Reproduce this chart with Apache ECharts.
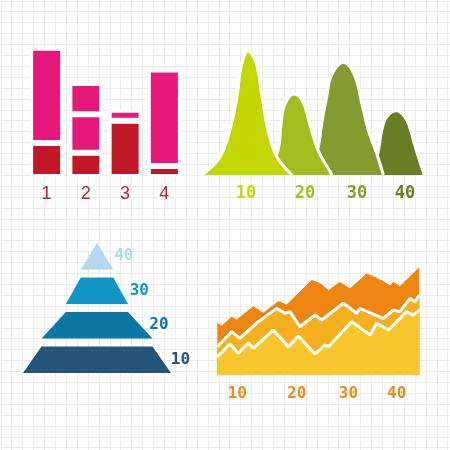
<!DOCTYPE html>
<html><head><meta charset="utf-8">
<script src="https://cdn.jsdelivr.net/npm/echarts@6/dist/echarts.min.js"></script>
<style>html,body{margin:0;padding:0;background:#fff}#c{width:450px;height:450px}</style>
</head><body><div id="c"></div>
<script>
// ---------- data ----------
// Top-left: stacked bars
const barCategories = ['1', '2', '3', '4'];
const barBottom = [26.5, 19, 44, 8.5];
const barMiddle = [74.5, 30, 8.5, 75.5];
const barUpper = [null, 24.5, null, null];

// Top-right: bell curves
const bellLabels = ['10', '20', '30', '40'];
const bellLabelPos = [20.4, 46.7, 69.8, 91.1];
const bell1 = [[0.9,0],[8.9,14.5],[13.3,36.3],[16.4,62.9],[18.4,88],[21.3,100],[24.8,91],[27.6,62.9],[30.2,36.3],[34.2,14.5],[40.9,0]];
const bell2 = [[30.2,0],[34.7,20.2],[36,40.3],[37.6,56.5],[41.8,65.3],[45.6,59.5],[48.9,40.3],[52.4,20.2],[56.9,5.6],[58.7,0]];
const bell3 = [[48.9,0],[52.6,22.8],[54.1,41.7],[56.3,63.1],[58.5,80.5],[63.7,90.9],[68.6,81],[71.9,57.8],[74.8,36.3],[78.5,17.5],[81.5,0]];
const bell4 = [[75.6,0],[79,17.5],[80.8,36.3],[83,47],[87.4,51.9],[91.9,44.4],[94.8,28.2],[97,14.8],[99.7,0]];

// Bottom-left: pyramid
const pyramidLabels = ['10', '20', '30', '40'];
const pyramidValues = [100, 75, 42, 22];

// Bottom-right: layered areas
const areaLabels = ['10', '20', '30', '40'];
const areaLabelPos = [9.9, 39.3, 64.9, 88.8];
const areaTop = [[0,47],[2.2,44.5],[7.1,52.4],[9.6,50],[17.8,62.1],[22.8,56.1],[30.2,66.7],[34.3,63.6],[46.7,85.8],[50.8,83.3],[55,76.7],[60.7,84.2],[65.7,78.2],[73.9,91.8],[77.2,89.4],[82.2,84.8],[85.5,80.9],[87.1,84.2],[90.4,80.3],[100,97.6]];
const areaMiddle = [[0,25.7],[7.1,39.4],[11.2,33.3],[20.3,48.5],[29.4,60.6],[33.5,56.1],[36,57.6],[40.9,43.9],[48.4,54.5],[51.7,50],[62.4,65.2],[69,56.1],[70.6,60.6],[82.2,51.5],[87.1,59.1],[90.4,57.6],[95.4,69.7],[97.9,66.7],[100,72.7]];
const areaBottom = [[0,16.7],[6.3,28.2],[10.4,19.7],[15.4,29.4],[17.8,24.2],[27.7,40.9],[35.2,25.7],[40.1,35.5],[48.4,19.1],[53.3,27.3],[55,25.7],[66.5,48.5],[75.6,36.4],[78.9,47],[84.7,40.9],[93.7,57.6],[97,54.5],[100,59.1]];

// ---------- styles ----------
const barColors = ['#c11828', '#e6197a'];
const bellColors = ['#c4d600', '#a3bd1e', '#869b2f', '#687d24'];
const pyramidColors = ['#26557a', '#0b77a3', '#1095c6', '#b3d7ee'];
const areaColors = ['#ee8510', '#f6b01e', '#f9c72c'];
const areaLabelColor = '#ee8a1c';
const mono = 'DejaVu Sans Mono';
const gridLineColor = '#ececec';

const hiddenAxis = { axisLine: {show:false}, axisTick: {show:false}, splitLine: {show:false} };

function labelLookup(list, pos) {
  return function (v, i) {
    const k = pos.indexOf(Number(v));
    return list[k >= 0 ? k : i];
  };
}

const chart = echarts.init(document.getElementById('c'));
chart.setOption({
  animation: false,
  backgroundColor: '#ffffff',
  grid: [
    { left: 0.8, top: 0.8, right: 0, bottom: 0 },
    { left: 27, right: 266, top: 49, bottom: 273 },
    { left: 200, right: 25, top: 51, bottom: 275 },
    { left: 217.3, right: 30.7, top: 265, bottom: 75 }
  ],
  xAxis: [
    { gridIndex: 0, type: 'value', min: 0, max: 41.21, interval: 1, axisLabel: {show:false}, axisLine:{show:false}, axisTick:{show:false}, splitLine: { lineStyle: { color: gridLineColor, width: 1 } } },
    Object.assign({ gridIndex: 1, type: 'category', data: barCategories,
      axisLabel: { color: '#c41e2e', fontSize: 18, fontFamily: 'Liberation Sans', margin: 8 } }, hiddenAxis),
    Object.assign({ gridIndex: 2, type: 'value', min: 0, max: 100,
      axisLabel: { customValues: bellLabelPos, formatter: labelLookup(bellLabels, bellLabelPos),
        color: function (v, i) { const k = bellLabelPos.indexOf(Number(v)); return bellColors[k >= 0 ? k : i]; },
        fontSize: 17, fontWeight: 'bold', fontFamily: mono, margin: 10 } }, hiddenAxis),
    Object.assign({ gridIndex: 3, type: 'value', min: 0, max: 100,
      axisLabel: { customValues: areaLabelPos, formatter: labelLookup(areaLabels, areaLabelPos),
        color: areaLabelColor, fontSize: 16, fontWeight: 'bold', fontFamily: mono, margin: 11 } }, hiddenAxis)
  ],
  yAxis: [
    { gridIndex: 0, type: 'value', inverse: true, min: 0, max: 41.21, interval: 1, axisLabel: {show:false}, axisLine:{show:false}, axisTick:{show:false}, splitLine: { lineStyle: { color: gridLineColor, width: 1 } } },
    Object.assign({ gridIndex: 1, type: 'value', min: 0, max: 100, axisLabel: {show:false} }, hiddenAxis),
    Object.assign({ gridIndex: 2, type: 'value', min: 0, max: 100, axisLabel: {show:false} }, hiddenAxis),
    Object.assign({ gridIndex: 3, type: 'value', min: 0, max: 100, axisLabel: {show:false} }, hiddenAxis)
  ],
  series: [
    // stacked bars
    { type: 'bar', xAxisIndex: 1, yAxisIndex: 1, stack: 'b', barWidth: 33, data: barBottom,
      itemStyle: { color: barColors[0], borderColor: '#fff', borderWidth: 3 } },
    { type: 'bar', xAxisIndex: 1, yAxisIndex: 1, stack: 'b', barWidth: 33, data: barMiddle,
      itemStyle: { color: barColors[1], borderColor: '#fff', borderWidth: 3 } },
    { type: 'bar', xAxisIndex: 1, yAxisIndex: 1, stack: 'b', barWidth: 33, data: barUpper,
      itemStyle: { color: barColors[1], borderColor: '#fff', borderWidth: 3 } },
    // bells (first one on top)
    ...[bell1, bell2, bell3, bell4].map((d, i) => ({
      type: 'line', xAxisIndex: 2, yAxisIndex: 2, data: d, smooth: 0.4, symbol: 'none', z: 10 - i,
      lineStyle: { color: '#fff', width: 3 }, areaStyle: { color: bellColors[i], opacity: 1 }
    })),
    // pyramid
    { type: 'funnel', sort: 'ascending', left: 23, top: 243, width: 148, height: 130, gap: 8,
      min: 0, max: 100, minSize: '0%', maxSize: '100%',
      label: { show: true, position: 'right', formatter: '{b}', fontSize: 16, fontWeight: 'bold', fontFamily: mono },
      labelLine: { show: false, length: 4 },
      itemStyle: { borderWidth: 0 },
      data: pyramidLabels.map((n, i) => ({ name: n, value: pyramidValues[i],
        itemStyle: { color: pyramidColors[i] }, label: { color: pyramidColors[i] } })) },
    // layered areas
    { type: 'line', xAxisIndex: 3, yAxisIndex: 3, data: areaTop, symbol: 'none', z: 3,
      lineStyle: { color: areaColors[0], width: 1 }, areaStyle: { color: areaColors[0], opacity: 1 } },
    { type: 'line', xAxisIndex: 3, yAxisIndex: 3, data: areaMiddle, symbol: 'none', z: 4,
      lineStyle: { color: '#fff', width: 3 }, areaStyle: { color: areaColors[1], opacity: 1 } },
    { type: 'line', xAxisIndex: 3, yAxisIndex: 3, data: areaBottom, symbol: 'none', z: 5,
      lineStyle: { color: '#fff', width: 3 }, areaStyle: { color: areaColors[2], opacity: 1 } }
  ]
});
</script>
</body></html>
